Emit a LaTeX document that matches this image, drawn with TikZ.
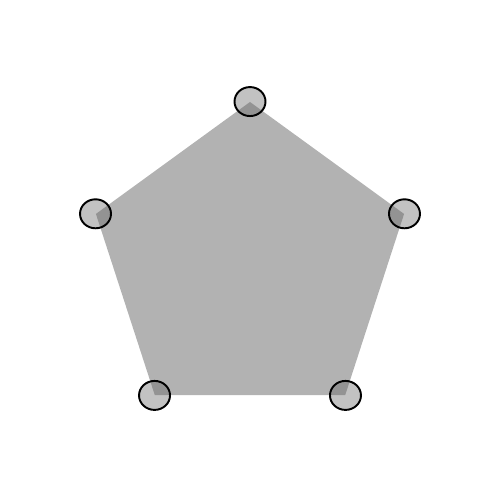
\documentclass[tikz,border=0pt]{standalone}
\usetikzlibrary{shapes.geometric}

\tikzset{
    corner/.style={
        draw,
        ellipse,
        line width=1.1pt,
        minimum width=0.62cm,
        minimum height=0.58cm,
        inner sep=0pt,
        fill=black!60,
        fill opacity=0.4
    }
}

\begin{document}
\begin{tikzpicture}
    \useasboundingbox (-5,-4.72) rectangle (5,5.28);
    % pentagon
    \node[
        regular polygon,
        regular polygon sides=5,
        minimum size=6.48cm,
        inner sep=0pt,
        fill=black!30
    ] (pent) at (0,0) {};
    % markers on the corners
    \foreach \i in {1,...,5} {
        \node[corner] (c\i) at (pent.corner \i) {};
    }
\end{tikzpicture}
\end{document}
